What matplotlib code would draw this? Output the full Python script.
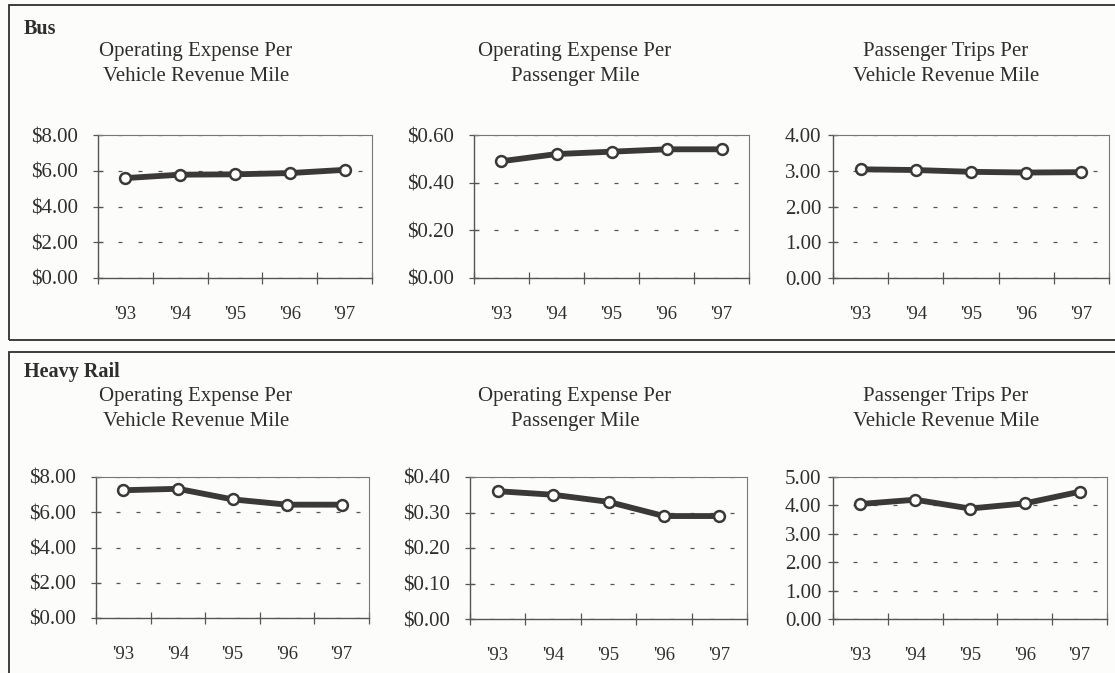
import matplotlib
matplotlib.use('Agg')
import matplotlib.pyplot as plt
from matplotlib.patches import Rectangle
from matplotlib.ticker import FuncFormatter, MultipleLocator

plt.rcParams['font.family'] = ['Liberation Serif', 'DejaVu Serif']

years = ["'93", "'94", "'95", "'96", "'97"]

# Bus
bus_exp_vrm = [5.59, 5.78, 5.80, 5.87, 6.05]
bus_exp_pm = [0.49, 0.52, 0.53, 0.54, 0.54]
bus_trips_vrm = [3.04, 3.02, 2.97, 2.95, 2.96]

# Heavy rail
rail_exp_vrm = [7.25, 7.33, 6.73, 6.43, 6.43]
rail_exp_pm = [0.36, 0.35, 0.33, 0.29, 0.29]
rail_trips_vrm = [4.05, 4.20, 3.89, 4.07, 4.48]

titles = ['Operating Expense Per\nVehicle Revenue Mile',
          'Operating Expense Per\nPassenger Mile',
          'Passenger Trips Per\nVehicle Revenue Mile']

W, H = 1115, 673
fig = plt.figure(figsize=(W / 100, H / 100), dpi=100)
fig.patch.set_facecolor('#fcfcfa')

ink = '#2e2e2e'
line_col = '#3b3838'


def px_axes(l, r, t, b):
    return fig.add_axes([l / W, 1 - b / H, (r - l) / W, (b - t) / H])


def draw(ax, vals, ymax, step, dollar, ypad):
    x = range(len(vals))
    ax.set_facecolor('#fcfcfa')
    ax.plot(x, vals, color=line_col, lw=4.2, solid_capstyle='round',
            marker='o', ms=7.8, mfc='white', mec=line_col, mew=1.8, zorder=5,
            clip_on=False)
    ax.set_xlim(-0.5, len(vals) - 0.5)
    ax.set_ylim(0, ymax)
    ax.yaxis.set_major_locator(MultipleLocator(step))
    if dollar:
        ax.yaxis.set_major_formatter(FuncFormatter(lambda v, p: '${:.2f}'.format(v)))
    else:
        ax.yaxis.set_major_formatter(FuncFormatter(lambda v, p: '{:.2f}'.format(v)))
    ax.set_xticks(list(x))
    ax.set_xticklabels(years)
    ax.set_xticks([i - 0.5 for i in range(len(vals) + 1)], minor=True)
    ax.tick_params(axis='x', which='major', length=0, pad=20, labelsize=13.5,
                   labelcolor=ink)
    ax.tick_params(axis='x', which='minor', direction='inout', length=9,
                   width=0.9, color='#555555')
    ax.tick_params(axis='y', direction='inout', length=7, width=0.9,
                   color='#555555', pad=ypad, labelsize=15, labelcolor=ink)
    ax.grid(axis='y', color='#555555', lw=0.9, linestyle=(0, (3.2, 12.8)))
    for s in ['left', 'bottom']:
        ax.spines[s].set_color('#555555')
        ax.spines[s].set_linewidth(1.0)
    for s in ['top', 'right']:
        ax.spines[s].set_color('#777777')
        ax.spines[s].set_linewidth(0.8)


# panel frames
fig.patches.append(Rectangle((9 / W, 1 - 340 / H), 1.2, 335 / H,
                             transform=fig.transFigure, fill=False,
                             ec=ink, lw=1.3))
fig.patches.append(Rectangle((9 / W, 1 - 700 / H), 1.2, 348 / H,
                             transform=fig.transFigure, fill=False,
                             ec=ink, lw=1.3))

# Bus row
a1 = px_axes(98, 372, 135, 278)
draw(a1, bus_exp_vrm, 8, 2, True, 11)
a2 = px_axes(474, 749, 135, 278)
draw(a2, bus_exp_pm, 0.6, 0.2, True, 11)
a3 = px_axes(833, 1109, 135, 278)
draw(a3, bus_trips_vrm, 4, 1, False, 5)

# Heavy rail row
b1 = px_axes(96, 369, 477, 618)
draw(b1, rail_exp_vrm, 8, 2, True, 11)
b2 = px_axes(470, 747, 477, 619)
draw(b2, rail_exp_pm, 0.4, 0.1, True, 11)
b3 = px_axes(833, 1107, 477, 619)
draw(b3, rail_trips_vrm, 5, 1, False, 5)

fig.text(24 / W, 1 - 29 / H, 'Bus', fontsize=14.5, fontweight='bold',
         color=ink, va='center')
fig.text(24 / W, 1 - 372 / H, 'Heavy Rail', fontsize=14.5, fontweight='bold',
         color=ink, va='center')

for cx, t in zip([196, 575, 946], titles):
    fig.text(cx / W, 1 - 64 / H, t, fontsize=15, color=ink, ha='center',
             va='center', linespacing=1.4)
    fig.text(cx / W, 1 - 409 / H, t, fontsize=15, color=ink, ha='center',
             va='center', linespacing=1.4)

plt.savefig('out.png', dpi=100, facecolor=fig.get_facecolor())
